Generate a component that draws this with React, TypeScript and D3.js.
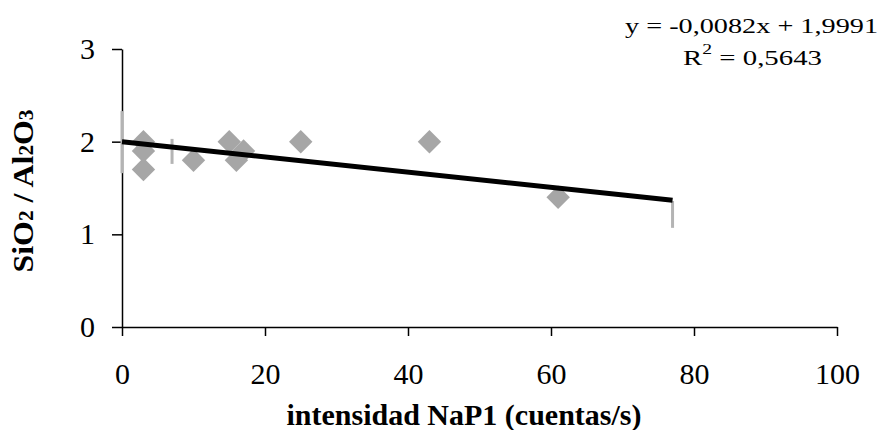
import React, { useEffect, useRef } from "react";
import { axisBottom, axisLeft, scaleLinear, select, line, symbol, symbolDiamond2, format } from "d3";

const intensidad = [3, 3, 3, 10, 15, 16, 17, 25, 43, 61];
const ratio = [2.0, 1.9, 1.7, 1.8, 2.0, 1.8, 1.9, 2.0, 2.0, 1.4];

// grey vertical bars
const barX = [0, 7, 77];
const barLo = [1.66, 1.76, 1.07];
const barHi = [2.33, 2.03, 1.36];

// linear trend from the equation
const slope = -0.0082;
const intercept = 1.9991;
const trendX = [0, 77];

const xTicks = [0, 20, 40, 60, 80, 100];
const yTicks = [0, 1, 2, 3];

const serif = "'Liberation Serif', 'Times New Roman', serif";

const App = () => {
  const plotRef = useRef(null);

  const dims = { width: 883, height: 430, left: 122, right: 837, top: 49, bottom: 327 };

  useEffect(() => {
    document.body.style.margin = "0";
    const g = select(plotRef.current);
    g.selectAll("*").remove();

    const x = scaleLinear().domain([0, 100]).range([dims.left, dims.right]);
    const y = scaleLinear().domain([0, 3]).range([dims.bottom, dims.top]);

    // x axis
    const gx = g
      .append("g")
      .attr("transform", `translate(0,${dims.bottom})`)
      .call(
        axisBottom(x).tickValues(xTicks).tickFormat(format("d")).tickSize(9).tickSizeOuter(0).tickPadding(27)
      );
    // y axis
    const gy = g
      .append("g")
      .attr("transform", `translate(${dims.left},0)`)
      .call(
        axisLeft(y).tickValues(yTicks).tickFormat(format("d")).tickSize(10).tickSizeOuter(0).tickPadding(17)
      );

    [gx, gy].forEach((a) => {
      a.selectAll("path, line").attr("stroke", "#000").attr("stroke-width", 1.5);
      a.selectAll("text")
        .attr("font-family", serif)
        .attr("font-size", 30)
        .attr("fill", "#000");
    });

    // grey bars
    g.append("g")
      .selectAll("line")
      .data(barX)
      .enter()
      .append("line")
      .attr("x1", (d) => x(d))
      .attr("x2", (d) => x(d))
      .attr("y1", (_, i) => y(barLo[i]))
      .attr("y2", (_, i) => y(barHi[i]))
      .attr("stroke", "#b4b4b4")
      .attr("stroke-width", 3);

    // points
    const diamond = symbol().type(symbolDiamond2).size(350);
    g.append("g")
      .selectAll("path")
      .data(intensidad)
      .enter()
      .append("path")
      .attr("d", diamond)
      .attr("transform", (d, i) => `translate(${x(d)},${y(ratio[i])})`)
      .attr("fill", "#a6a6a6");

    // trend line
    const trend = line<number>(
      (d) => x(d),
      (d) => y(slope * d + intercept)
    );
    g.append("path")
      .datum(trendX)
      .attr("d", trend)
      .attr("fill", "none")
      .attr("stroke", "#000")
      .attr("stroke-width", 5);
  }, []);

  return (
    <svg width={dims.width} height={dims.height} style={{ display: "block" }}>
      <g ref={plotRef}></g>
      {/* equation */}
      <text x={625} y={33} fontFamily={serif} fontSize={22} textLength={253} lengthAdjust="spacingAndGlyphs">
        y = -0,0082x + 1,9991
      </text>
      <text x={683} y={65} fontFamily={serif} fontSize={22} textLength={139} lengthAdjust="spacingAndGlyphs">
        R<tspan fontSize={15} dy={-11}>2</tspan>
        <tspan dy={11}> = 0,5643</tspan>
      </text>
      {/* axis titles */}
      <text
        x={464}
        y={425}
        textAnchor="middle"
        fontFamily={serif}
        fontWeight="bold"
        fontSize={30}
        textLength={355}
        lengthAdjust="spacingAndGlyphs"
      >
        intensidad NaP1 (cuentas/s)
      </text>
      <text
        transform="translate(33,191) rotate(-90)"
        textAnchor="middle"
        fontFamily={serif}
        fontWeight="bold"
        fontSize={30}
        textLength={163}
        lengthAdjust="spacingAndGlyphs"
      >
        SiO<tspan fontSize={20}>2</tspan>
        {" / Al"}
        <tspan fontSize={20}>2</tspan>O<tspan fontSize={20}>3</tspan>
      </text>
    </svg>
  );
};

export default App;
